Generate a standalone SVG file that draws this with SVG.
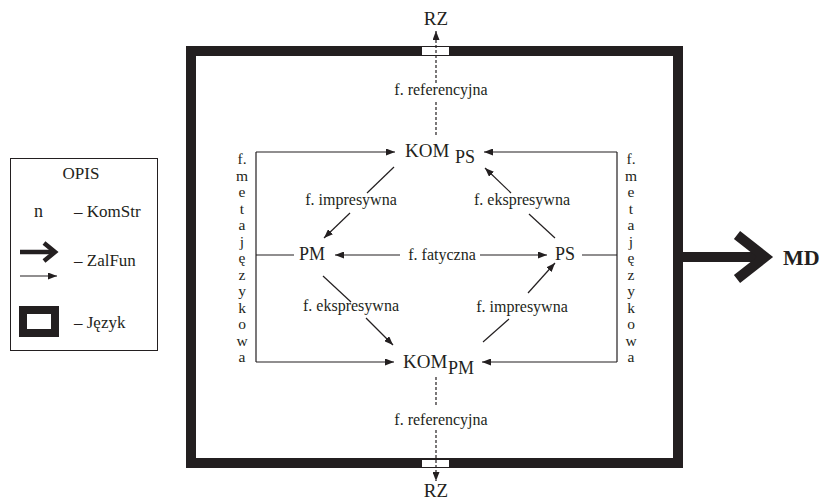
<svg xmlns="http://www.w3.org/2000/svg" width="824" height="500" viewBox="0 0 824 500">
<defs>
<marker id="ah" viewBox="0 0 9 7" markerWidth="9" markerHeight="7" refX="9" refY="3.5" orient="auto" markerUnits="userSpaceOnUse">
<path d="M0,0 L9,3.5 L0,7 z" fill="#231f20"/>
</marker>
<style>
text{font-family:"Liberation Serif","Times New Roman",serif;fill:#231f20}
.t{font-size:16px}
.n{font-size:19px}
.lg{font-size:17px}
.s{font-size:18px}
.ln{stroke:#231f20;stroke-width:1.2;fill:none}
.ar{stroke:#231f20;stroke-width:1.2;fill:none;marker-end:url(#ah)}
.da{stroke:#231f20;stroke-width:1.2;fill:none;stroke-dasharray:3 2}
.v{font-size:15.5px;text-anchor:middle}
</style>
</defs>
<rect width="824" height="500" fill="#fff"/>

<g id="legend">
<rect x="10.5" y="158.5" width="147" height="192" fill="none" stroke="#231f20" stroke-width="1"/>
<text x="81" y="179" class="lg" text-anchor="middle">OPIS</text>
<text x="34" y="217" class="s">n</text>
<text x="74" y="217" class="lg">– KomStr</text>
<line x1="20" y1="252" x2="55" y2="252" stroke="#231f20" stroke-width="4.5"/>
<polyline points="44,243 55,252 44,261" fill="none" stroke="#231f20" stroke-width="4.5" stroke-linejoin="miter"/>
<line x1="20" y1="276" x2="57" y2="276" class="ar"/>
<text x="74" y="266" class="lg">– ZalFun</text>
<rect x="23" y="310" width="32" height="23" fill="none" stroke="#231f20" stroke-width="8"/>
<text x="74" y="328" class="lg">– Język</text>
</g>

<g id="frame">
<rect x="191" y="51" width="487" height="412" fill="none" stroke="#231f20" stroke-width="10"/>
<rect x="422" y="47" width="27" height="8" fill="#fff"/>
<rect x="422" y="460" width="27" height="7" fill="#fff"/>
</g>

<g id="connectors">
<line x1="436" y1="135" x2="436" y2="101" class="da"/>
<line x1="436" y1="83" x2="436" y2="31" class="da" marker-end="url(#ah)"/>
<line x1="436" y1="377" x2="436" y2="407" class="da"/>
<line x1="436" y1="430" x2="436" y2="481" class="da" marker-end="url(#ah)"/>
<polyline points="294,255 256,255" class="ln"/>
<line x1="256" y1="152" x2="256" y2="362" class="ln"/>
<line x1="256" y1="152" x2="395" y2="152" class="ar"/>
<line x1="256" y1="362" x2="394" y2="362" class="ar"/>
<polyline points="582,255 617,255" class="ln"/>
<line x1="617" y1="152" x2="617" y2="362" class="ln"/>
<line x1="617" y1="152" x2="484" y2="152" class="ar"/>
<line x1="617" y1="362" x2="482" y2="362" class="ar"/>
<line x1="400" y1="255" x2="335" y2="255" class="ar"/>
<line x1="480" y1="255" x2="547" y2="255" class="ar"/>
<line x1="394" y1="167" x2="367" y2="193" class="ln"/>
<line x1="350" y1="213" x2="324" y2="238" class="ar"/>
<line x1="323" y1="276" x2="351" y2="302" class="ln"/>
<line x1="366" y1="318" x2="393" y2="345" class="ar"/>
<line x1="555" y1="238" x2="529" y2="214" class="ln"/>
<line x1="511" y1="193" x2="485" y2="168" class="ar"/>
<line x1="483" y1="342" x2="509" y2="319" class="ln"/>
<line x1="528" y1="293" x2="555" y2="263" class="ar"/>
<line x1="683" y1="257" x2="764" y2="257" stroke="#231f20" stroke-width="10"/>
<polyline points="737,235 765,257 737,279" fill="none" stroke="#231f20" stroke-width="10" stroke-linejoin="miter"/>
</g>

<g id="rz-top"><text x="436" y="25" font-size="19" text-anchor="middle">RZ</text></g>
<g id="rz-bottom"><text x="436" y="497" font-size="19" text-anchor="middle">RZ</text></g>
<g id="md"><text x="783" y="265" font-size="22" font-weight="bold">MD</text></g>

<g id="kom-ps"><text x="405" y="157" class="n">KOM</text><text x="455" y="163" class="s">PS</text></g>
<g id="kom-pm"><text x="403" y="368" class="n">KOM</text><text x="448" y="374" class="s">PM</text></g>
<g id="pm"><text x="299" y="260" class="s">PM</text></g>
<g id="ps"><text x="555" y="260" class="s">PS</text></g>

<g id="labels">
<text x="441" y="95" class="t" text-anchor="middle">f. referencyjna</text>
<text x="441" y="425" class="t" text-anchor="middle">f. referencyjna</text>
<text x="442" y="260" class="t" text-anchor="middle">f. fatyczna</text>
<text x="351" y="205" class="t" text-anchor="middle">f. impresywna</text>
<text x="351" y="311" class="t" text-anchor="middle">f. ekspresywna</text>
<text x="522" y="205" class="t" text-anchor="middle">f. ekspresywna</text>
<text x="522" y="312" class="t" text-anchor="middle">f. impresywna</text>
</g>

<g id="meta-left">
<text x="242" y="164" class="v">f.</text><text x="242" y="181" class="v">m</text><text x="242" y="197" class="v">e</text><text x="242" y="214" class="v">t</text><text x="242" y="230" class="v">a</text><text x="242" y="247" class="v">j</text><text x="242" y="263" class="v">ę</text><text x="242" y="280" class="v">z</text><text x="242" y="296" class="v">y</text><text x="242" y="313" class="v">k</text><text x="242" y="329" class="v">o</text><text x="242" y="346" class="v">w</text><text x="242" y="362" class="v">a</text>
</g>
<g id="meta-right">
<text x="631" y="164" class="v">f.</text><text x="631" y="181" class="v">m</text><text x="631" y="197" class="v">e</text><text x="631" y="214" class="v">t</text><text x="631" y="230" class="v">a</text><text x="631" y="247" class="v">j</text><text x="631" y="263" class="v">ę</text><text x="631" y="280" class="v">z</text><text x="631" y="296" class="v">y</text><text x="631" y="313" class="v">k</text><text x="631" y="329" class="v">o</text><text x="631" y="346" class="v">w</text><text x="631" y="362" class="v">a</text>
</g>
</svg>
